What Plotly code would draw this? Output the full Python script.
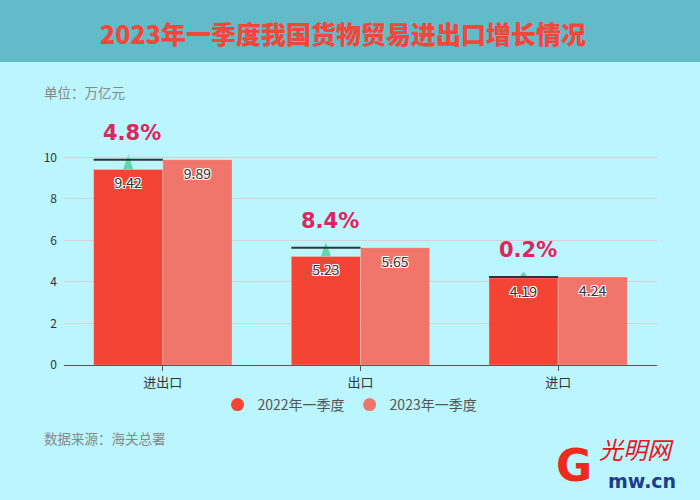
import plotly.graph_objects as go

categories = ["进出口", "出口", "进口"]
values_2022 = [9.42, 5.23, 4.19]
values_2023 = [9.89, 5.65, 4.24]
growth_labels = ["4.8%", "8.4%", "0.2%"]
series_names = ["2022年一季度", "2023年一季度"]
colors = ["#F54433", "#F0756A"]

FONT = "Noto Sans CJK SC"
halo = "1px 1px 0 #fff, -1px -1px 0 #fff, 1px -1px 0 #fff, -1px 1px 0 #fff"

fig = go.Figure()
for name, vals, col in [(series_names[0], values_2022, colors[0]),
                        (series_names[1], values_2023, colors[1])]:
    fig.add_trace(go.Bar(
        x=categories, y=vals, name=name, marker=dict(color=col, line=dict(width=0.5, color="rgba(255,255,255,0.5)")),
        text=[f"{v:.2f}" for v in vals], textposition="inside", insidetextanchor="end",
        textfont=dict(color="#333", size=14, family=FONT, shadow=halo),
        showlegend=False, cliponaxis=False,
    ))
    fig.add_trace(go.Scatter(
        x=[None], y=[None], mode="markers", name=name,
        marker=dict(symbol="circle", size=13, color=col),
    ))

shapes = []
annotations = []
half = 0.35
for i, (a, b, g) in enumerate(zip(values_2022, values_2023, growth_labels)):
    c = i - half / 2
    shapes.append(dict(type="line", xref="x", yref="y", x0=i - half, x1=i, y0=b, y1=b,
                       line=dict(color="#333333", width=2), layer="above"))
    tip = b + 0.25
    w = 0.026
    shapes.append(dict(type="path", xref="x", yref="y",
                       path=f"M {c - w},{a} L {c + w},{a} L {c},{tip} Z",
                       fillcolor="#5DD8A8", line=dict(width=0), layer="below"))
    annotations.append(dict(x=c + 0.02, y=b, xref="x", yref="y", yshift=27, text=f"<b>{g}</b>",
                            showarrow=False, font=dict(size=21, color="#E0245E", family="DejaVu Sans"),
                            yanchor="middle"))

PH = 218.0
def py(pix):
    return (365 - pix) / PH
def px(pix):
    return (pix - 64) / 593.0

shapes.append(dict(type="rect", xref="paper", yref="paper", x0=-0.2, x1=1.2,
                   y0=py(62), y1=py(-10),
                   fillcolor="#62BBC8", line=dict(width=0), layer="below"))

annotations += [
    dict(x=px(343), y=py(33), xref="paper", yref="paper",
         text="2023年一季度我国货物贸易进出口增长情况", showarrow=False,
         font=dict(size=25, color="#F5463A", family=FONT, weight=900), xanchor="center", yanchor="middle"),
    dict(x=px(42), y=py(92), xref="paper", yref="paper",
         text="单位：万亿元", showarrow=False,
         font=dict(size=13.5, color="#888888", family=FONT), xanchor="left", yanchor="middle"),
    dict(x=px(42), y=py(438), xref="paper", yref="paper",
         text="数据来源：海关总署", showarrow=False,
         font=dict(size=13.5, color="#888888", family=FONT), xanchor="left", yanchor="middle"),
    dict(x=px(636), y=py(448), xref="paper", yref="paper",
         text="<i>光明网</i>", showarrow=False,
         font=dict(size=24, color="#E8141E", family=FONT), xanchor="center", yanchor="middle"),
    dict(x=px(574), y=py(465), xref="paper", yref="paper",
         text="<b>G</b>", showarrow=False,
         font=dict(size=44, color="#EE2A1E", family="DejaVu Sans"), xanchor="center", yanchor="middle"),
    dict(x=px(642), y=py(481), xref="paper", yref="paper",
         text="<b>mw.cn</b>", showarrow=False,
         font=dict(size=19, color="#1E3C8C", family="DejaVu Sans"), xanchor="center", yanchor="middle"),
]

fig.update_layout(
    width=700, height=500,
    margin=dict(l=64, r=43, t=147, b=135, autoexpand=False),
    paper_bgcolor="#BBF5FD", plot_bgcolor="#BBF5FD",
    barmode="group", bargap=0.3, bargroupgap=0,
    font=dict(family=FONT, color="#333"),
    shapes=shapes, annotations=annotations,
    legend=dict(orientation="h", xref="container", x=0.5, xanchor="center",
                yref="container", y=1 - 405 / 500, yanchor="middle",
                font=dict(size=14, color="#555", family=FONT), itemwidth=30,
                bgcolor="rgba(0,0,0,0)"),
    xaxis=dict(showline=True, linecolor="#555", linewidth=1, ticks="outside", ticklen=5,
               tickcolor="#555", tickfont=dict(size=13, color="#333"), showgrid=False),
    yaxis=dict(range=[0, 10.5], tickvals=[0, 2, 4, 6, 8, 10], showgrid=True, gridcolor="#D2D2D2",
               zeroline=False, tickfont=dict(size=12, color="#333"), ticks="", ticklabelstandoff=6),
)

fig.write_html("out.html", config={"displayModeBar": False},
               post_script="document.body.style.margin='0';")
